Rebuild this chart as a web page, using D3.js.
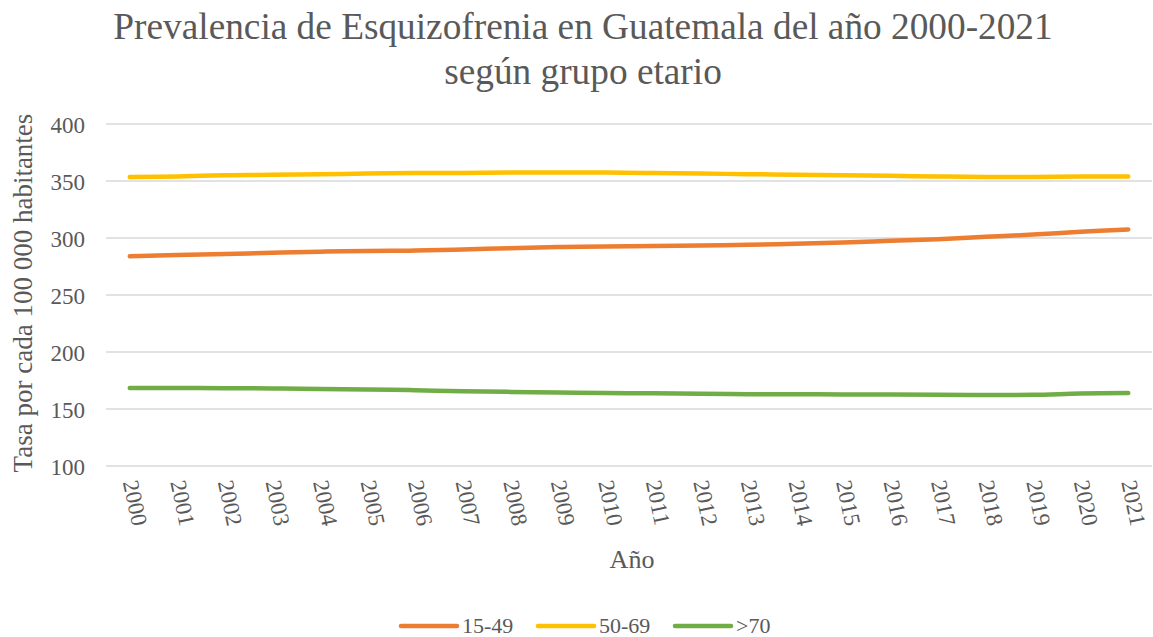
<!DOCTYPE html>
<html>
<head>
<meta charset="utf-8">
<script src="https://cdn.jsdelivr.net/npm/d3@7"></script>
<style>
  body { margin: 0; background: #fff; }
  text { font-family: "Liberation Serif", "Times New Roman", serif; fill: #595959; }
</style>
</head>
<body>
<svg></svg>
<script>
// Datos
const years = d3.range(2000, 2022).map(String);
const serie1549 = [284, 285, 286, 287, 288, 288.5, 289, 290, 291, 292, 292.5, 293, 293.5, 294, 295, 296, 297.5, 299, 301, 303, 305.5, 307.5];
const serie5069 = [353.5, 354, 355, 355.5, 356, 356.5, 357, 357, 357.5, 357.5, 357.5, 357, 356.5, 356, 355.5, 355, 354.5, 354, 353.5, 353.5, 354, 354];
const serie70 = [168.5, 168.5, 168.3, 168, 167.5, 167, 166.5, 165.5, 165, 164.5, 164, 163.8, 163.3, 163, 163, 162.8, 162.7, 162.5, 162.3, 162.5, 163.5, 164];
const yTicks = [100, 150, 200, 250, 300, 350, 400];

const series = [
    { name: "15-49", values: serie1549, color: "#ED7D31" },
    { name: "50-69", values: serie5069, color: "#FFC000" },
    { name: ">70", values: serie70, color: "#70AD47" }
];

const width = 1153;
const height = 637;
const margin = { top: 124, right: 1, bottom: 171, left: 106 };

const svg = d3.select("svg")
    .attr("width", width)
    .attr("height", height);

const x = d3.scaleBand()
    .domain(years)
    .range([margin.left, width - margin.right]);

const y = d3.scaleLinear()
    .domain([100, 400])
    .range([height - margin.bottom, margin.top]);

// Título
svg.append("text")
    .attr("x", 583).attr("y", 39)
    .attr("text-anchor", "middle")
    .style("font-size", "37.3px")
    .text("Prevalencia de Esquizofrenia en Guatemala del año 2000-2021");
svg.append("text")
    .attr("x", 583).attr("y", 84)
    .attr("text-anchor", "middle")
    .style("font-size", "37.3px")
    .text("según grupo etario");

// Líneas de cuadrícula
svg.append("g")
    .selectAll("line")
    .data(yTicks)
    .join("line")
    .attr("x1", margin.left)
    .attr("x2", width - margin.right)
    .attr("y1", d => y(d))
    .attr("y2", d => y(d))
    .attr("stroke", "#d9d9d9")
    .attr("stroke-width", 1.5);

// Eje Y
const yAxis = svg.append("g")
    .attr("transform", `translate(${margin.left - 21},0)`)
    .call(d3.axisLeft(y).tickValues(yTicks).tickSize(0).tickPadding(0));
yAxis.select(".domain").remove();
yAxis.selectAll("text")
    .style("font-size", "23px")
    .style("font-family", "Liberation Serif")
    .attr("fill", "#595959")
    .attr("dy", "0.35em");

// Eje X
const xAxis = svg.append("g")
    .attr("transform", `translate(0,${height - margin.bottom})`)
    .call(d3.axisBottom(x).tickSize(0).tickPadding(0));
xAxis.select(".domain").remove();
xAxis.selectAll("text")
    .style("font-size", "23px")
    .style("font-family", "Liberation Serif")
    .attr("fill", "#595959")
    .attr("text-anchor", "start")
    .attr("transform", "translate(-7,16) rotate(78)")
    .attr("dy", "0")
    .attr("y", 0);

// Títulos de ejes
svg.append("text")
    .attr("transform", "translate(32,293) rotate(-90)")
    .attr("text-anchor", "middle")
    .style("font-size", "27px")
    .text("Tasa por cada 100 000 habitantes");

svg.append("text")
    .attr("x", 632).attr("y", 568)
    .attr("text-anchor", "middle")
    .style("font-size", "26px")
    .text("Año");

// Series
const line = d3.line()
    .x((d, i) => x(years[i]) + x.bandwidth() / 2)
    .y(d => y(d))
    .curve(d3.curveCatmullRom.alpha(0.5));

svg.append("g")
    .selectAll("path")
    .data(series)
    .join("path")
    .attr("d", d => line(d.values))
    .attr("fill", "none")
    .attr("stroke", d => d.color)
    .attr("stroke-width", 4.5)
    .attr("stroke-linecap", "round");

// Leyenda
const legendX = [401, 538, 675];
const legend = svg.append("g")
    .selectAll("g")
    .data(series)
    .join("g")
    .attr("transform", (d, i) => `translate(${legendX[i]},626)`);
legend.append("line")
    .attr("x1", 0).attr("x2", 56)
    .attr("stroke", d => d.color)
    .attr("stroke-width", 4.5)
    .attr("stroke-linecap", "round");
legend.append("text")
    .attr("x", 61)
    .attr("dy", "0.3em")
    .style("font-size", "22px")
    .text(d => d.name);
</script>
</body>
</html>
